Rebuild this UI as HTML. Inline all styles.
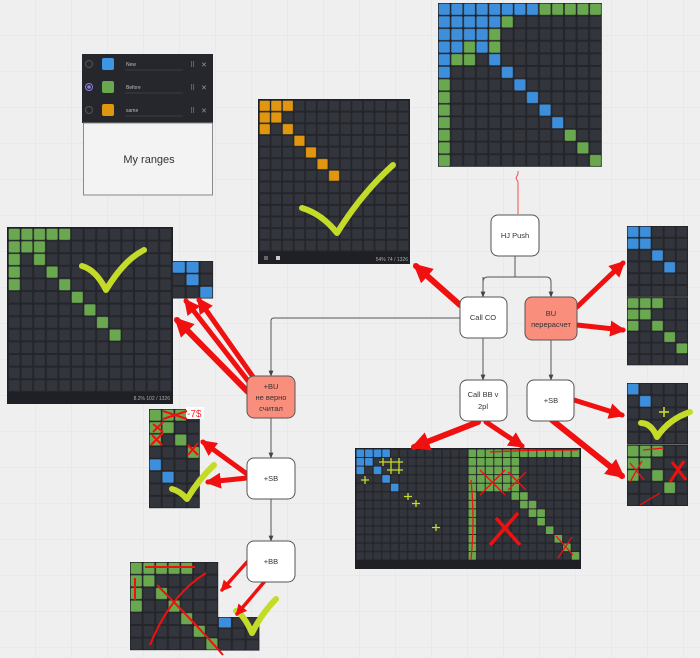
<!DOCTYPE html>
<html><head><meta charset="utf-8"><style>
html,body{margin:0;padding:0;background:#efefef;}
svg{display:block;font-family:"Liberation Sans","DejaVu Sans",sans-serif;}
</style></head><body>
<svg width="700" height="658" viewBox="0 0 700 658" xmlns="http://www.w3.org/2000/svg">
<defs>
<pattern id="bg" width="36" height="36" patternUnits="userSpaceOnUse"><path d="M36 0V36H0" fill="none" stroke="#e3e3e3" stroke-width="1"/></pattern>
<pattern id="cell" width="10" height="10" patternUnits="userSpaceOnUse"><rect width="10" height="10" fill="#24262b"/><rect x="0.8" y="0.8" width="8.4" height="8.4" rx="0.8" fill="#33353c"/></pattern>
<pattern id="pg" width="10" height="10" patternUnits="userSpaceOnUse"><rect x="0.6" y="0.6" width="8.8" height="8.8" rx="0.8" fill="#6aa84f"/></pattern>
<pattern id="pb" width="10" height="10" patternUnits="userSpaceOnUse"><rect x="0.6" y="0.6" width="8.8" height="8.8" rx="0.8" fill="#3d8fdc"/></pattern>
<pattern id="po" width="10" height="10" patternUnits="userSpaceOnUse"><rect x="0.6" y="0.6" width="8.8" height="8.8" rx="0.8" fill="#e0960f"/></pattern>
<marker id="ah" viewBox="0 0 10 10" refX="8" refY="5" markerWidth="3.2" markerHeight="3.2" orient="auto"><path d="M0 0L10 5L0 10z" fill="#f01010"/></marker>
<marker id="ga" viewBox="0 0 10 10" refX="9" refY="5" markerWidth="6" markerHeight="6" orient="auto"><path d="M0 1L10 5L0 9z" fill="#444"/></marker>
</defs>
<rect width="700" height="658" fill="#efefef"/>
<rect width="700" height="658" fill="url(#bg)"/>

<!-- top-right grid -->
<g transform="translate(438,3) scale(1.26)">
<rect width="130" height="130" fill="url(#cell)"/>
<g fill="url(#pb)">
<rect x="0" y="0" width="80" height="10"/>
<rect x="0" y="10" width="50" height="10"/>
<rect x="0" y="20" width="40" height="10"/>
<rect x="0" y="30" width="20" height="10"/><rect x="30" y="30" width="10" height="10"/>
<rect x="0" y="40" width="10" height="10"/><rect x="40" y="40" width="10" height="10"/>
<rect x="0" y="50" width="10" height="10"/><rect x="50" y="50" width="10" height="10"/>
<rect x="60" y="60" width="10" height="10"/><rect x="70" y="70" width="10" height="10"/>
<rect x="80" y="80" width="10" height="10"/><rect x="90" y="90" width="10" height="10"/>
</g>
<g fill="url(#pg)">
<rect x="80" y="0" width="50" height="10"/>
<rect x="50" y="10" width="10" height="10"/>
<rect x="40" y="20" width="10" height="10"/>
<rect x="20" y="30" width="10" height="10"/><rect x="40" y="30" width="10" height="10"/>
<rect x="10" y="40" width="20" height="10"/>
<rect x="0" y="60" width="10" height="70"/>
<rect x="100" y="100" width="10" height="10"/><rect x="110" y="110" width="10" height="10"/><rect x="120" y="120" width="10" height="10"/>
</g>
</g>
<path d="M518 214V182l-2-4 2-4V171" stroke="#f05050" fill="none" stroke-width="1"/>

<!-- legend -->
<rect x="82" y="54" width="131" height="69" fill="#25272c"/>
<rect x="83.5" y="123" width="129" height="72" fill="#f3f3f3" stroke="#8a8a8a"/>
<text x="149" y="163" font-size="11" text-anchor="middle" fill="#333">My ranges</text>
<circle cx="89" cy="64" r="3.5" fill="none" stroke="#555"/>
<circle cx="89" cy="87" r="3.5" fill="none" stroke="#8f7fe0"/><circle cx="89" cy="87" r="1.8" fill="#8f7fe0"/>
<circle cx="89" cy="110" r="3.5" fill="none" stroke="#555"/>
<rect x="102" y="58" width="12" height="12" rx="2" fill="#3d95e6"/>
<rect x="102" y="81" width="12" height="12" rx="2" fill="#6aa84f"/>
<rect x="102" y="104" width="12" height="12" rx="2" fill="#e0960f"/>
<g font-size="5" fill="#bbb"><text x="126" y="66">New</text><text x="126" y="89">Before</text><text x="126" y="112">same</text></g>
<g stroke="#555" stroke-width="0.6"><line x1="125" y1="70" x2="183" y2="70"/><line x1="125" y1="93" x2="183" y2="93"/><line x1="125" y1="116" x2="183" y2="116"/></g>
<g font-size="7" fill="#999"><text x="190" y="67">⠿</text><text x="201" y="67">✕</text><text x="190" y="90">⠿</text><text x="201" y="90">✕</text><text x="190" y="113">⠿</text><text x="201" y="113">✕</text></g>

<!-- orange grid -->
<rect x="258" y="99" width="152" height="165" fill="#1f2025"/>
<g transform="translate(259,100) scale(1.155,1.165)">
<rect width="130" height="130" fill="url(#cell)"/>
<g fill="url(#po)">
<rect x="0" y="0" width="30" height="10"/><rect x="0" y="10" width="20" height="10"/>
<rect x="0" y="20" width="10" height="10"/><rect x="20" y="20" width="10" height="10"/>
<rect x="30" y="30" width="10" height="10"/><rect x="40" y="40" width="10" height="10"/>
<rect x="50" y="50" width="10" height="10"/><rect x="60" y="60" width="10" height="10"/>
</g></g>
<text x="408" y="261" font-size="5" fill="#aaa" text-anchor="end">54%  74 / 1326</text>
<rect x="264" y="256" width="4" height="4" fill="#666"/><rect x="276" y="256" width="4" height="4" fill="#ccc"/>

<!-- left green grid -->
<rect x="7" y="227" width="166" height="177" fill="#1f2025"/>
<g transform="translate(8,228) scale(1.26)">
<rect width="130" height="130" fill="url(#cell)"/>
<g fill="url(#pg)">
<rect x="0" y="0" width="50" height="10"/><rect x="0" y="10" width="30" height="10"/>
<rect x="0" y="20" width="10" height="10"/><rect x="20" y="20" width="10" height="10"/>
<rect x="0" y="30" width="10" height="10"/><rect x="30" y="30" width="10" height="10"/>
<rect x="0" y="40" width="10" height="10"/><rect x="40" y="40" width="10" height="10"/>
<rect x="50" y="50" width="10" height="10"/><rect x="60" y="60" width="10" height="10"/>
<rect x="70" y="70" width="10" height="10"/><rect x="80" y="80" width="10" height="10"/>
</g></g>
<text x="170" y="400" font-size="5" fill="#aaa" text-anchor="end">8.2%  102 / 1326</text>
<!-- small blue -->
<g transform="translate(172,261) scale(1.37,1.25)">
<rect width="30" height="30" fill="url(#cell)"/>
<g fill="url(#pb)"><rect x="0" y="0" width="20" height="10"/><rect x="10" y="10" width="10" height="10"/><rect x="20" y="20" width="10" height="10"/></g>
</g>

<!-- right top grid -->
<g transform="translate(627,226) scale(1.22,1.18)">
<rect width="50" height="60" fill="url(#cell)"/>
<g fill="url(#pb)"><rect x="0" y="0" width="20" height="20"/><rect x="20" y="20" width="10" height="10"/><rect x="30" y="30" width="10" height="10"/></g>
</g>
<line x1="627" y1="297" x2="688" y2="297" stroke="#555" stroke-width="1"/>
<g transform="translate(627,297.5) scale(1.22,1.13)">
<rect width="50" height="60" fill="url(#cell)"/>
<g fill="url(#pg)"><rect x="0" y="0" width="30" height="10"/><rect x="0" y="10" width="20" height="10"/><rect x="0" y="20" width="10" height="10"/><rect x="20" y="20" width="10" height="10"/><rect x="30" y="30" width="10" height="10"/><rect x="40" y="40" width="10" height="10"/></g>
</g>

<!-- right lower grid -->
<g transform="translate(627,383) scale(1.22,1.22)">
<rect width="50" height="50" fill="url(#cell)"/>
<g fill="url(#pb)"><rect x="0" y="0" width="10" height="10"/><rect x="10" y="10" width="10" height="10"/></g>
</g>
<line x1="627" y1="444.5" x2="688" y2="444.5" stroke="#666"/>
<g transform="translate(627,445) scale(1.22,1.22)">
<rect width="50" height="50" fill="url(#cell)"/>
<g fill="url(#pg)"><rect x="0" y="0" width="30" height="10"/><rect x="0" y="10" width="20" height="10"/><rect x="0" y="20" width="10" height="10"/><rect x="20" y="20" width="10" height="10"/><rect x="30" y="30" width="10" height="10"/></g>
</g>
<g stroke="#c8dc2a" stroke-width="1.6"><line x1="664" y1="407" x2="664" y2="417"/><line x1="659" y1="412" x2="669" y2="412"/></g>

<!-- bottom middle grid -->
<rect x="355" y="448" width="226" height="121" fill="#1f2025"/>
<g transform="translate(356,449) scale(0.86,0.855)">
<rect width="130" height="130" fill="url(#cell)"/>
<g fill="url(#pb)"><rect x="0" y="0" width="40" height="10"/><rect x="0" y="10" width="20" height="10"/><rect x="0" y="20" width="10" height="10"/><rect x="20" y="20" width="10" height="10"/><rect x="30" y="30" width="10" height="10"/><rect x="40" y="40" width="10" height="10"/></g>
</g>
<g transform="translate(468,449) scale(0.86,0.855)">
<rect width="130" height="130" fill="url(#cell)"/>
<g fill="url(#pg)"><rect x="0" y="0" width="130" height="10"/><rect x="0" y="10" width="60" height="40"/><rect x="0" y="50" width="10" height="80"/>
<rect x="50" y="50" width="20" height="10"/><rect x="60" y="60" width="20" height="10"/><rect x="70" y="70" width="20" height="10"/><rect x="80" y="80" width="10" height="10"/><rect x="90" y="90" width="10" height="10"/><rect x="100" y="100" width="10" height="10"/><rect x="110" y="110" width="10" height="10"/><rect x="120" y="120" width="10" height="10"/></g>
</g>
<g stroke="#c8dc2a" stroke-width="1.3">
<path d="M383 458v8M379 462h8M391 458v8M387 462h8M399 458v8M395 462h8M391 466v8M387 470h8M399 466v8M395 470h8M365 476v8M361 480h8M408 493v7M404 496.5h8M416 500v7M412 503.5h8M436 524v7M432 527.5h8"/>
</g>
<g stroke="#f01010" stroke-width="1.3" fill="none">
<path d="M490 452q40 -2 88 -2"/><path d="M471 480q4 40 0 80"/><path d="M480 470l25 25M505 470l-25 25M508 472l18 18M526 472l-18 18"/>
</g>
<g stroke="#f01010" stroke-width="3.5"><line x1="496" y1="518" x2="520" y2="545"/><line x1="518" y1="513" x2="490" y2="545"/></g>
<g stroke="#f01010" stroke-width="1.2"><line x1="556" y1="536" x2="573" y2="555"/><line x1="572" y1="537" x2="558" y2="558"/></g>

<!-- left mid grid -->
<g transform="translate(149,409) scale(1.27,1.24)">
<rect width="40" height="80" fill="url(#cell)"/>
<g fill="url(#pg)"><rect x="0" y="0" width="30" height="10"/><rect x="0" y="10" width="20" height="10"/><rect x="0" y="20" width="10" height="10"/><rect x="20" y="20" width="10" height="10"/><rect x="30" y="30" width="10" height="10"/></g>
<g fill="url(#pb)"><rect x="0" y="40" width="10" height="10"/><rect x="10" y="50" width="10" height="10"/></g>
</g>
<rect x="186" y="407" width="18" height="12" fill="#fff"/>
<text x="187" y="417" font-size="10" fill="#f03030">-7$</text>
<g stroke="#f01010" stroke-width="2" fill="none">
<path d="M163 411l24 8M187 411l-24 8M153 424l10 8M163 422l-10 10M152 435l10 10M163 433l-12 12M188 445l10 10M198 443l-10 12"/>
</g>

<!-- bottom left grid -->
<g transform="translate(130,562) scale(1.26)">
<rect width="70" height="70" fill="url(#cell)"/>
<g fill="url(#pg)"><rect x="0" y="0" width="50" height="10"/><rect x="0" y="10" width="20" height="10"/><rect x="0" y="20" width="10" height="10"/><rect x="20" y="20" width="10" height="10"/><rect x="0" y="30" width="10" height="10"/><rect x="30" y="30" width="10" height="10"/><rect x="40" y="40" width="10" height="10"/><rect x="50" y="50" width="10" height="10"/><rect x="60" y="60" width="10" height="10"/></g>
</g>
<g transform="translate(218,617) scale(1.38,1.12)">
<rect width="30" height="30" fill="url(#cell)"/>
<rect x="0" y="0" width="10" height="10" fill="url(#pb)"/>
</g>
<g stroke="#f01010" stroke-width="2" fill="none">
<path d="M150 645q20 -50 56 -72"/><path d="M157 585q40 40 66 70"/><path d="M145 567h50M135 578v22"/>
</g>

<!-- checkmarks -->
<g stroke="#c4dc28" stroke-width="6" fill="none" stroke-linecap="round" stroke-linejoin="round">
<path d="M302 208q20 6 35 25q25 -40 56 -68"/>
<path d="M82 266q14 4 24 24q18 -30 38 -40"/>
<path d="M172 489q8 2 15 10q12 -20 27 -34"/>
<path d="M236 611q8 4 16 22q10 -20 24 -34"/>
<path d="M641 423q10 0 16 14q12 -18 33 -25"/>
</g>

<!-- red X right lower -->
<g stroke="#f01010" stroke-width="3"><line x1="672" y1="462" x2="686" y2="480"/><line x1="684" y1="461" x2="670" y2="482"/></g>
<g stroke="#f01010" stroke-width="1.3"><line x1="630" y1="463" x2="644" y2="480"/><line x1="642" y1="461" x2="630" y2="482"/><line x1="643" y1="450" x2="664" y2="448"/><line x1="660" y1="493" x2="640" y2="505"/></g>

<!-- gray connectors -->
<g stroke="#555" stroke-width="1" fill="none">
<path d="M515 256V277M483 297V282q0-5 5-5H546q5 0 5 5V297" marker-end="url(#ga)"/>
<path d="M483 277V297" marker-end="url(#ga)"/>
<path d="M483 338V380" marker-end="url(#ga)"/>
<path d="M551 340V380" marker-end="url(#ga)"/>
<path d="M460 318H274q-3 0-3 3V376" marker-end="url(#ga)"/>
<path d="M271 418V458" marker-end="url(#ga)"/>
<path d="M271 499V541" marker-end="url(#ga)"/>
</g>

<!-- red arrows -->
<g stroke="#f01010" fill="none" stroke-linecap="round" marker-end="url(#ah)">
<line x1="460" y1="305" x2="416" y2="266" stroke-width="6"/>
<line x1="248" y1="392" x2="177" y2="320" stroke-width="6"/>
<line x1="252" y1="386" x2="186" y2="301" stroke-width="5"/>
<line x1="256" y1="381" x2="199" y2="300" stroke-width="5"/>
<line x1="577" y1="307" x2="623" y2="263" stroke-width="5"/>
<line x1="577" y1="325" x2="623" y2="330" stroke-width="5"/>
<line x1="574" y1="400" x2="622" y2="415" stroke-width="5"/>
<line x1="552" y1="420" x2="622" y2="476" stroke-width="6"/>
<line x1="478" y1="422" x2="414" y2="447" stroke-width="6"/>
<line x1="486" y1="422" x2="522" y2="446" stroke-width="5"/>
<line x1="247" y1="474" x2="203" y2="442" stroke-width="5"/>
<line x1="247" y1="478" x2="208" y2="482" stroke-width="5"/>
<line x1="247" y1="562" x2="222" y2="590" stroke-width="3.5"/>
<line x1="265" y1="581" x2="237" y2="614" stroke-width="3.5"/>
</g>

<!-- nodes -->
<g stroke="#555" stroke-width="1">
<rect x="491" y="215" width="48" height="41" rx="7" fill="#fff"/>
<rect x="460" y="297" width="47" height="41" rx="7" fill="#fff"/>
<rect x="525" y="297" width="52" height="43" rx="7" fill="#f98e7c"/>
<rect x="460" y="380" width="47" height="41" rx="7" fill="#fff"/>
<rect x="527" y="380" width="47" height="41" rx="7" fill="#fff"/>
<rect x="247" y="376" width="48" height="42" rx="7" fill="#f98e7c"/>
<rect x="247" y="458" width="48" height="41" rx="7" fill="#fff"/>
<rect x="247" y="541" width="48" height="41" rx="7" fill="#fff"/>
</g>
<g font-size="7.5" fill="#333" text-anchor="middle">
<text x="515" y="238">HJ Push</text>
<text x="483" y="320">Call CO</text>
<text x="551" y="316">BU</text><text x="551" y="327">перерасчет</text>
<text x="483" y="397">Call BB v</text><text x="483" y="409">2pl</text>
<text x="551" y="403">+SB</text>
<text x="271" y="389">+BU</text><text x="271" y="400">не верно</text><text x="271" y="411">считал</text>
<text x="271" y="481">+SB</text>
<text x="271" y="564">+BB</text>
</g>
</svg>
</body></html>
